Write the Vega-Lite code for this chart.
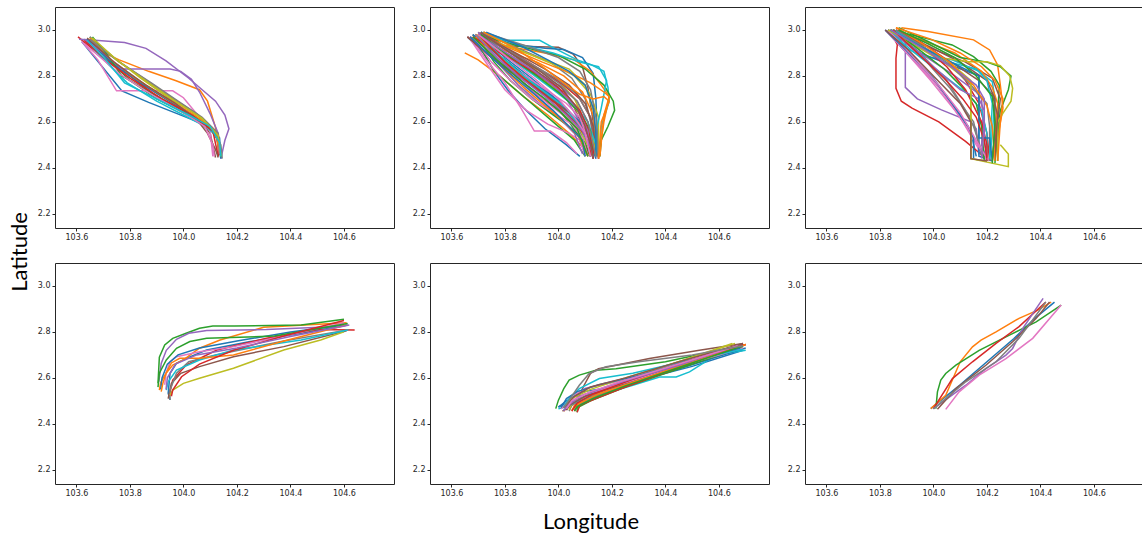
{
"$schema":"https://vega.github.io/schema/vega-lite/v6.json",
"padding":{"left":8,"top":6,"right":0,"bottom":0},
"config":{"view":{"stroke":"#262626","strokeWidth":1},
"axis":{"domain":false,"grid":false,"tickSize":3,"tickColor":"#262626","labelFont":"DejaVu Sans","labelFontSize":8,"labelColor":"#262626","labelPadding":2,"title":null},
"header":{"titleFont":"Lato","titleFontSize":22,"titleFontWeight":"normal","titleColor":"#000"}},
"data":{"values":[
{"r":0,"c":0,"t":0,"x":103.62,"y":2.95},{"r":0,"c":0,"t":0,"x":103.77,"y":2.735},{"r":0,"c":0,"t":0,"x":103.87,"y":2.685},{"r":0,"c":0,"t":0,"x":104.0,"y":2.625},{"r":0,"c":0,"t":0,"x":104.085,"y":2.585},{"r":0,"c":0,"t":0,"x":104.135,"y":2.53},{"r":0,"c":0,"t":0,"x":104.14,"y":2.45},
{"r":0,"c":0,"t":1,"x":103.64,"y":2.96},{"r":0,"c":0,"t":1,"x":103.685,"y":2.91},{"r":0,"c":0,"t":1,"x":103.76,"y":2.87},{"r":0,"c":0,"t":1,"x":103.87,"y":2.82},{"r":0,"c":0,"t":1,"x":103.97,"y":2.78},{"r":0,"c":0,"t":1,"x":104.06,"y":2.74},{"r":0,"c":0,"t":1,"x":104.09,"y":2.69},{"r":0,"c":0,"t":1,"x":104.12,"y":2.575},{"r":0,"c":0,"t":1,"x":104.135,"y":2.46},
{"r":0,"c":0,"t":2,"x":103.65,"y":2.97},{"r":0,"c":0,"t":2,"x":103.72,"y":2.87},{"r":0,"c":0,"t":2,"x":103.8,"y":2.78},{"r":0,"c":0,"t":2,"x":103.9,"y":2.7},{"r":0,"c":0,"t":2,"x":104.0,"y":2.64},{"r":0,"c":0,"t":2,"x":104.1,"y":2.57},{"r":0,"c":0,"t":2,"x":104.13,"y":2.52},{"r":0,"c":0,"t":2,"x":104.14,"y":2.45},
{"r":0,"c":0,"t":3,"x":103.606,"y":2.97},{"r":0,"c":0,"t":3,"x":103.7,"y":2.88},{"r":0,"c":0,"t":3,"x":103.8,"y":2.8},{"r":0,"c":0,"t":3,"x":103.9,"y":2.71},{"r":0,"c":0,"t":3,"x":104.0,"y":2.64},{"r":0,"c":0,"t":3,"x":104.1,"y":2.575},{"r":0,"c":0,"t":3,"x":104.13,"y":2.53},{"r":0,"c":0,"t":3,"x":104.13,"y":2.45},
{"r":0,"c":0,"t":4,"x":103.61,"y":2.96},{"r":0,"c":0,"t":4,"x":103.67,"y":2.955},{"r":0,"c":0,"t":4,"x":103.78,"y":2.945},{"r":0,"c":0,"t":4,"x":103.86,"y":2.92},{"r":0,"c":0,"t":4,"x":103.935,"y":2.865},{"r":0,"c":0,"t":4,"x":104.02,"y":2.79},{"r":0,"c":0,"t":4,"x":104.07,"y":2.74},{"r":0,"c":0,"t":4,"x":104.12,"y":2.69},{"r":0,"c":0,"t":4,"x":104.155,"y":2.63},{"r":0,"c":0,"t":4,"x":104.17,"y":2.57},{"r":0,"c":0,"t":4,"x":104.155,"y":2.52},{"r":0,"c":0,"t":4,"x":104.14,"y":2.44},
{"r":0,"c":0,"t":5,"x":103.64,"y":2.96},{"r":0,"c":0,"t":5,"x":103.75,"y":2.84},{"r":0,"c":0,"t":5,"x":103.85,"y":2.76},{"r":0,"c":0,"t":5,"x":103.95,"y":2.69},{"r":0,"c":0,"t":5,"x":104.05,"y":2.62},{"r":0,"c":0,"t":5,"x":104.1,"y":2.55},{"r":0,"c":0,"t":5,"x":104.12,"y":2.445},
{"r":0,"c":0,"t":6,"x":103.62,"y":2.95},{"r":0,"c":0,"t":6,"x":103.68,"y":2.87},{"r":0,"c":0,"t":6,"x":103.75,"y":2.735},{"r":0,"c":0,"t":6,"x":103.96,"y":2.735},{"r":0,"c":0,"t":6,"x":104.0,"y":2.705},{"r":0,"c":0,"t":6,"x":104.06,"y":2.62},{"r":0,"c":0,"t":6,"x":104.1,"y":2.56},{"r":0,"c":0,"t":6,"x":104.11,"y":2.45},
{"r":0,"c":0,"t":7,"x":103.65,"y":2.97},{"r":0,"c":0,"t":7,"x":103.75,"y":2.87},{"r":0,"c":0,"t":7,"x":103.85,"y":2.79},{"r":0,"c":0,"t":7,"x":103.95,"y":2.71},{"r":0,"c":0,"t":7,"x":104.05,"y":2.635},{"r":0,"c":0,"t":7,"x":104.11,"y":2.57},{"r":0,"c":0,"t":7,"x":104.14,"y":2.5},{"r":0,"c":0,"t":7,"x":104.145,"y":2.44},
{"r":0,"c":0,"t":8,"x":103.655,"y":2.965},{"r":0,"c":0,"t":8,"x":103.74,"y":2.88},{"r":0,"c":0,"t":8,"x":103.84,"y":2.79},{"r":0,"c":0,"t":8,"x":103.95,"y":2.7},{"r":0,"c":0,"t":8,"x":104.05,"y":2.63},{"r":0,"c":0,"t":8,"x":104.12,"y":2.56},{"r":0,"c":0,"t":8,"x":104.14,"y":2.46},
{"r":0,"c":0,"t":9,"x":103.63,"y":2.96},{"r":0,"c":0,"t":9,"x":103.72,"y":2.85},{"r":0,"c":0,"t":9,"x":103.79,"y":2.77},{"r":0,"c":0,"t":9,"x":103.9,"y":2.69},{"r":0,"c":0,"t":9,"x":104.0,"y":2.63},{"r":0,"c":0,"t":9,"x":104.09,"y":2.575},{"r":0,"c":0,"t":9,"x":104.13,"y":2.53},{"r":0,"c":0,"t":9,"x":104.14,"y":2.45},
{"r":0,"c":0,"t":10,"x":103.64,"y":2.96},{"r":0,"c":0,"t":10,"x":103.73,"y":2.86},{"r":0,"c":0,"t":10,"x":103.84,"y":2.77},{"r":0,"c":0,"t":10,"x":103.96,"y":2.68},{"r":0,"c":0,"t":10,"x":104.06,"y":2.61},{"r":0,"c":0,"t":10,"x":104.12,"y":2.55},{"r":0,"c":0,"t":10,"x":104.14,"y":2.44},
{"r":0,"c":0,"t":11,"x":103.65,"y":2.965},{"r":0,"c":0,"t":11,"x":103.73,"y":2.87},{"r":0,"c":0,"t":11,"x":103.82,"y":2.79},{"r":0,"c":0,"t":11,"x":103.94,"y":2.7},{"r":0,"c":0,"t":11,"x":104.04,"y":2.63},{"r":0,"c":0,"t":11,"x":104.12,"y":2.56},{"r":0,"c":0,"t":11,"x":104.135,"y":2.46},
{"r":0,"c":0,"t":12,"x":103.66,"y":2.97},{"r":0,"c":0,"t":12,"x":103.71,"y":2.9},{"r":0,"c":0,"t":12,"x":103.77,"y":2.8},{"r":0,"c":0,"t":12,"x":103.86,"y":2.74},{"r":0,"c":0,"t":12,"x":103.98,"y":2.66},{"r":0,"c":0,"t":12,"x":104.08,"y":2.59},{"r":0,"c":0,"t":12,"x":104.13,"y":2.54},{"r":0,"c":0,"t":12,"x":104.14,"y":2.45},
{"r":0,"c":0,"t":13,"x":103.63,"y":2.955},{"r":0,"c":0,"t":13,"x":103.72,"y":2.86},{"r":0,"c":0,"t":13,"x":103.8,"y":2.79},{"r":0,"c":0,"t":13,"x":103.92,"y":2.7},{"r":0,"c":0,"t":13,"x":104.03,"y":2.63},{"r":0,"c":0,"t":13,"x":104.11,"y":2.56},{"r":0,"c":0,"t":13,"x":104.13,"y":2.45},
{"r":0,"c":0,"t":14,"x":103.63,"y":2.96},{"r":0,"c":0,"t":14,"x":103.7,"y":2.9},{"r":0,"c":0,"t":14,"x":103.77,"y":2.83},{"r":0,"c":0,"t":14,"x":103.95,"y":2.83},{"r":0,"c":0,"t":14,"x":103.99,"y":2.82},{"r":0,"c":0,"t":14,"x":104.03,"y":2.785},{"r":0,"c":0,"t":14,"x":104.06,"y":2.73},{"r":0,"c":0,"t":14,"x":104.1,"y":2.635},{"r":0,"c":0,"t":14,"x":104.13,"y":2.55},{"r":0,"c":0,"t":14,"x":104.135,"y":2.46},
{"r":0,"c":0,"t":15,"x":103.64,"y":2.965},{"r":0,"c":0,"t":15,"x":103.74,"y":2.86},{"r":0,"c":0,"t":15,"x":103.86,"y":2.76},{"r":0,"c":0,"t":15,"x":103.97,"y":2.68},{"r":0,"c":0,"t":15,"x":104.05,"y":2.61},{"r":0,"c":0,"t":15,"x":104.09,"y":2.55},{"r":0,"c":0,"t":15,"x":104.12,"y":2.48},{"r":0,"c":0,"t":15,"x":104.13,"y":2.445},
{"r":0,"c":0,"t":16,"x":103.63,"y":2.94},{"r":0,"c":0,"t":16,"x":103.69,"y":2.88},{"r":0,"c":0,"t":16,"x":103.76,"y":2.81},{"r":0,"c":0,"t":16,"x":103.88,"y":2.72},{"r":0,"c":0,"t":16,"x":104.0,"y":2.64},{"r":0,"c":0,"t":16,"x":104.08,"y":2.58},{"r":0,"c":0,"t":16,"x":104.11,"y":2.5},{"r":0,"c":0,"t":16,"x":104.115,"y":2.45},
{"r":0,"c":0,"t":17,"x":103.65,"y":2.96},{"r":0,"c":0,"t":17,"x":103.76,"y":2.86},{"r":0,"c":0,"t":17,"x":103.88,"y":2.77},{"r":0,"c":0,"t":17,"x":103.98,"y":2.69},{"r":0,"c":0,"t":17,"x":104.07,"y":2.62},{"r":0,"c":0,"t":17,"x":104.13,"y":2.55},{"r":0,"c":0,"t":17,"x":104.14,"y":2.46},
{"r":0,"c":0,"t":18,"x":103.66,"y":2.965},{"r":0,"c":0,"t":18,"x":103.75,"y":2.87},{"r":0,"c":0,"t":18,"x":103.87,"y":2.77},{"r":0,"c":0,"t":18,"x":103.97,"y":2.69},{"r":0,"c":0,"t":18,"x":104.07,"y":2.615},{"r":0,"c":0,"t":18,"x":104.13,"y":2.54},{"r":0,"c":0,"t":18,"x":104.14,"y":2.45},
{"r":0,"c":0,"t":19,"x":103.64,"y":2.955},{"r":0,"c":0,"t":19,"x":103.71,"y":2.87},{"r":0,"c":0,"t":19,"x":103.78,"y":2.77},{"r":0,"c":0,"t":19,"x":103.9,"y":2.7},{"r":0,"c":0,"t":19,"x":104.02,"y":2.63},{"r":0,"c":0,"t":19,"x":104.1,"y":2.58},{"r":0,"c":0,"t":19,"x":104.135,"y":2.51},{"r":0,"c":0,"t":19,"x":104.14,"y":2.45},

{"r":0,"c":1,"t":0,"x":103.66,"y":2.97},{"r":0,"c":1,"t":0,"x":103.72,"y":2.9},{"r":0,"c":1,"t":0,"x":103.76,"y":2.82},{"r":0,"c":1,"t":0,"x":103.81,"y":2.74},{"r":0,"c":1,"t":0,"x":103.87,"y":2.66},{"r":0,"c":1,"t":0,"x":103.95,"y":2.57},{"r":0,"c":1,"t":0,"x":104.03,"y":2.5},{"r":0,"c":1,"t":0,"x":104.08,"y":2.45},
{"r":0,"c":1,"t":1,"x":103.65,"y":2.9},{"r":0,"c":1,"t":1,"x":103.7,"y":2.87},{"r":0,"c":1,"t":1,"x":103.78,"y":2.8},{"r":0,"c":1,"t":1,"x":103.87,"y":2.71},{"r":0,"c":1,"t":1,"x":103.96,"y":2.63},{"r":0,"c":1,"t":1,"x":104.04,"y":2.55},{"r":0,"c":1,"t":1,"x":104.1,"y":2.48},{"r":0,"c":1,"t":1,"x":104.12,"y":2.45},
{"r":0,"c":1,"t":2,"x":103.68,"y":2.98},{"r":0,"c":1,"t":2,"x":103.73,"y":2.88},{"r":0,"c":1,"t":2,"x":103.76,"y":2.82},{"r":0,"c":1,"t":2,"x":103.82,"y":2.76},{"r":0,"c":1,"t":2,"x":103.9,"y":2.68},{"r":0,"c":1,"t":2,"x":103.98,"y":2.6},{"r":0,"c":1,"t":2,"x":104.06,"y":2.52},{"r":0,"c":1,"t":2,"x":104.1,"y":2.45},
{"r":0,"c":1,"t":3,"x":103.7,"y":2.98},{"r":0,"c":1,"t":3,"x":103.78,"y":2.88},{"r":0,"c":1,"t":3,"x":103.86,"y":2.8},{"r":0,"c":1,"t":3,"x":103.94,"y":2.73},{"r":0,"c":1,"t":3,"x":104.02,"y":2.66},{"r":0,"c":1,"t":3,"x":104.08,"y":2.6},{"r":0,"c":1,"t":3,"x":104.12,"y":2.53},{"r":0,"c":1,"t":3,"x":104.14,"y":2.45},
{"r":0,"c":1,"t":4,"x":103.71,"y":2.99},{"r":0,"c":1,"t":4,"x":103.8,"y":2.9},{"r":0,"c":1,"t":4,"x":103.9,"y":2.83},{"r":0,"c":1,"t":4,"x":104.0,"y":2.76},{"r":0,"c":1,"t":4,"x":104.07,"y":2.69},{"r":0,"c":1,"t":4,"x":104.11,"y":2.6},{"r":0,"c":1,"t":4,"x":104.13,"y":2.5},{"r":0,"c":1,"t":4,"x":104.14,"y":2.44},
{"r":0,"c":1,"t":5,"x":103.72,"y":2.99},{"r":0,"c":1,"t":5,"x":103.8,"y":2.93},{"r":0,"c":1,"t":5,"x":104.0,"y":2.925},{"r":0,"c":1,"t":5,"x":104.055,"y":2.895},{"r":0,"c":1,"t":5,"x":104.09,"y":2.84},{"r":0,"c":1,"t":5,"x":104.11,"y":2.75},{"r":0,"c":1,"t":5,"x":104.13,"y":2.6},{"r":0,"c":1,"t":5,"x":104.14,"y":2.45},
{"r":0,"c":1,"t":6,"x":103.67,"y":2.97},{"r":0,"c":1,"t":6,"x":103.73,"y":2.87},{"r":0,"c":1,"t":6,"x":103.8,"y":2.77},{"r":0,"c":1,"t":6,"x":103.86,"y":2.66},{"r":0,"c":1,"t":6,"x":103.91,"y":2.56},{"r":0,"c":1,"t":6,"x":103.97,"y":2.56},{"r":0,"c":1,"t":6,"x":104.03,"y":2.51},{"r":0,"c":1,"t":6,"x":104.07,"y":2.46},
{"r":0,"c":1,"t":7,"x":103.69,"y":2.98},{"r":0,"c":1,"t":7,"x":103.76,"y":2.9},{"r":0,"c":1,"t":7,"x":103.85,"y":2.82},{"r":0,"c":1,"t":7,"x":103.94,"y":2.74},{"r":0,"c":1,"t":7,"x":104.02,"y":2.65},{"r":0,"c":1,"t":7,"x":104.08,"y":2.56},{"r":0,"c":1,"t":7,"x":104.1,"y":2.5},{"r":0,"c":1,"t":7,"x":104.11,"y":2.45},
{"r":0,"c":1,"t":8,"x":103.7,"y":2.98},{"r":0,"c":1,"t":8,"x":103.8,"y":2.9},{"r":0,"c":1,"t":8,"x":103.9,"y":2.84},{"r":0,"c":1,"t":8,"x":104.0,"y":2.78},{"r":0,"c":1,"t":8,"x":104.06,"y":2.7},{"r":0,"c":1,"t":8,"x":104.1,"y":2.6},{"r":0,"c":1,"t":8,"x":104.12,"y":2.5},{"r":0,"c":1,"t":8,"x":104.13,"y":2.45},
{"r":0,"c":1,"t":9,"x":103.72,"y":2.98},{"r":0,"c":1,"t":9,"x":103.78,"y":2.955},{"r":0,"c":1,"t":9,"x":103.93,"y":2.955},{"r":0,"c":1,"t":9,"x":103.97,"y":2.93},{"r":0,"c":1,"t":9,"x":104.07,"y":2.87},{"r":0,"c":1,"t":9,"x":104.12,"y":2.85},{"r":0,"c":1,"t":9,"x":104.17,"y":2.82},{"r":0,"c":1,"t":9,"x":104.185,"y":2.75},{"r":0,"c":1,"t":9,"x":104.19,"y":2.69},{"r":0,"c":1,"t":9,"x":104.16,"y":2.58},{"r":0,"c":1,"t":9,"x":104.155,"y":2.45},
{"r":0,"c":1,"t":10,"x":103.71,"y":2.99},{"r":0,"c":1,"t":10,"x":103.82,"y":2.94},{"r":0,"c":1,"t":10,"x":103.95,"y":2.92},{"r":0,"c":1,"t":10,"x":104.02,"y":2.915},{"r":0,"c":1,"t":10,"x":104.09,"y":2.88},{"r":0,"c":1,"t":10,"x":104.13,"y":2.81},{"r":0,"c":1,"t":10,"x":104.14,"y":2.7},{"r":0,"c":1,"t":10,"x":104.145,"y":2.55},{"r":0,"c":1,"t":10,"x":104.15,"y":2.44},
{"r":0,"c":1,"t":11,"x":103.69,"y":2.98},{"r":0,"c":1,"t":11,"x":103.8,"y":2.93},{"r":0,"c":1,"t":11,"x":103.95,"y":2.9},{"r":0,"c":1,"t":11,"x":104.06,"y":2.87},{"r":0,"c":1,"t":11,"x":104.12,"y":2.82},{"r":0,"c":1,"t":11,"x":104.16,"y":2.76},{"r":0,"c":1,"t":11,"x":104.19,"y":2.71},{"r":0,"c":1,"t":11,"x":104.17,"y":2.6},{"r":0,"c":1,"t":11,"x":104.15,"y":2.44},
{"r":0,"c":1,"t":12,"x":103.7,"y":2.98},{"r":0,"c":1,"t":12,"x":103.85,"y":2.93},{"r":0,"c":1,"t":12,"x":104.0,"y":2.89},{"r":0,"c":1,"t":12,"x":104.1,"y":2.83},{"r":0,"c":1,"t":12,"x":104.17,"y":2.76},{"r":0,"c":1,"t":12,"x":104.205,"y":2.69},{"r":0,"c":1,"t":12,"x":104.21,"y":2.65},{"r":0,"c":1,"t":12,"x":104.185,"y":2.58},{"r":0,"c":1,"t":12,"x":104.16,"y":2.52},{"r":0,"c":1,"t":12,"x":104.155,"y":2.45},
{"r":0,"c":1,"t":13,"x":103.66,"y":2.97},{"r":0,"c":1,"t":13,"x":103.75,"y":2.88},{"r":0,"c":1,"t":13,"x":103.84,"y":2.8},{"r":0,"c":1,"t":13,"x":103.92,"y":2.72},{"r":0,"c":1,"t":13,"x":104.0,"y":2.65},{"r":0,"c":1,"t":13,"x":104.06,"y":2.58},{"r":0,"c":1,"t":13,"x":104.1,"y":2.5},{"r":0,"c":1,"t":13,"x":104.12,"y":2.45},
{"r":0,"c":1,"t":14,"x":103.68,"y":2.98},{"r":0,"c":1,"t":14,"x":103.77,"y":2.86},{"r":0,"c":1,"t":14,"x":103.85,"y":2.76},{"r":0,"c":1,"t":14,"x":103.93,"y":2.68},{"r":0,"c":1,"t":14,"x":104.01,"y":2.61},{"r":0,"c":1,"t":14,"x":104.07,"y":2.55},{"r":0,"c":1,"t":14,"x":104.1,"y":2.46},
{"r":0,"c":1,"t":15,"x":103.7,"y":2.99},{"r":0,"c":1,"t":15,"x":103.82,"y":2.9},{"r":0,"c":1,"t":15,"x":103.92,"y":2.82},{"r":0,"c":1,"t":15,"x":104.0,"y":2.75},{"r":0,"c":1,"t":15,"x":104.06,"y":2.66},{"r":0,"c":1,"t":15,"x":104.1,"y":2.56},{"r":0,"c":1,"t":15,"x":104.13,"y":2.45},
{"r":0,"c":1,"t":16,"x":103.67,"y":2.96},{"r":0,"c":1,"t":16,"x":103.74,"y":2.84},{"r":0,"c":1,"t":16,"x":103.8,"y":2.74},{"r":0,"c":1,"t":16,"x":103.88,"y":2.65},{"r":0,"c":1,"t":16,"x":103.96,"y":2.59},{"r":0,"c":1,"t":16,"x":104.04,"y":2.55},{"r":0,"c":1,"t":16,"x":104.08,"y":2.52},{"r":0,"c":1,"t":16,"x":104.1,"y":2.45},
{"r":0,"c":1,"t":17,"x":103.72,"y":2.99},{"r":0,"c":1,"t":17,"x":103.85,"y":2.92},{"r":0,"c":1,"t":17,"x":103.97,"y":2.86},{"r":0,"c":1,"t":17,"x":104.05,"y":2.79},{"r":0,"c":1,"t":17,"x":104.1,"y":2.7},{"r":0,"c":1,"t":17,"x":104.12,"y":2.6},{"r":0,"c":1,"t":17,"x":104.14,"y":2.45},
{"r":0,"c":1,"t":18,"x":103.7,"y":2.98},{"r":0,"c":1,"t":18,"x":103.83,"y":2.92},{"r":0,"c":1,"t":18,"x":103.95,"y":2.87},{"r":0,"c":1,"t":18,"x":104.04,"y":2.83},{"r":0,"c":1,"t":18,"x":104.1,"y":2.76},{"r":0,"c":1,"t":18,"x":104.13,"y":2.65},{"r":0,"c":1,"t":18,"x":104.14,"y":2.55},{"r":0,"c":1,"t":18,"x":104.15,"y":2.45},
{"r":0,"c":1,"t":19,"x":103.69,"y":2.97},{"r":0,"c":1,"t":19,"x":103.78,"y":2.88},{"r":0,"c":1,"t":19,"x":103.88,"y":2.78},{"r":0,"c":1,"t":19,"x":103.97,"y":2.7},{"r":0,"c":1,"t":19,"x":104.05,"y":2.62},{"r":0,"c":1,"t":19,"x":104.1,"y":2.54},{"r":0,"c":1,"t":19,"x":104.13,"y":2.45},
{"r":0,"c":1,"t":20,"x":103.71,"y":2.98},{"r":0,"c":1,"t":20,"x":103.8,"y":2.88},{"r":0,"c":1,"t":20,"x":103.9,"y":2.79},{"r":0,"c":1,"t":20,"x":103.99,"y":2.7},{"r":0,"c":1,"t":20,"x":104.06,"y":2.62},{"r":0,"c":1,"t":20,"x":104.11,"y":2.53},{"r":0,"c":1,"t":20,"x":104.13,"y":2.44},
{"r":0,"c":1,"t":21,"x":103.68,"y":2.97},{"r":0,"c":1,"t":21,"x":103.8,"y":2.91},{"r":0,"c":1,"t":21,"x":103.92,"y":2.86},{"r":0,"c":1,"t":21,"x":104.02,"y":2.8},{"r":0,"c":1,"t":21,"x":104.09,"y":2.73},{"r":0,"c":1,"t":21,"x":104.13,"y":2.63},{"r":0,"c":1,"t":21,"x":104.14,"y":2.52},{"r":0,"c":1,"t":21,"x":104.14,"y":2.45},
{"r":0,"c":1,"t":22,"x":103.69,"y":2.98},{"r":0,"c":1,"t":22,"x":103.76,"y":2.86},{"r":0,"c":1,"t":22,"x":103.82,"y":2.78},{"r":0,"c":1,"t":22,"x":103.9,"y":2.7},{"r":0,"c":1,"t":22,"x":103.98,"y":2.63},{"r":0,"c":1,"t":22,"x":104.05,"y":2.57},{"r":0,"c":1,"t":22,"x":104.1,"y":2.51},{"r":0,"c":1,"t":22,"x":104.12,"y":2.45},
{"r":0,"c":1,"t":23,"x":103.71,"y":2.99},{"r":0,"c":1,"t":23,"x":103.82,"y":2.91},{"r":0,"c":1,"t":23,"x":103.93,"y":2.83},{"r":0,"c":1,"t":23,"x":104.02,"y":2.76},{"r":0,"c":1,"t":23,"x":104.08,"y":2.7},{"r":0,"c":1,"t":23,"x":104.12,"y":2.62},{"r":0,"c":1,"t":23,"x":104.14,"y":2.5},{"r":0,"c":1,"t":23,"x":104.15,"y":2.44},
{"r":0,"c":1,"t":24,"x":103.7,"y":2.98},{"r":0,"c":1,"t":24,"x":103.78,"y":2.92},{"r":0,"c":1,"t":24,"x":103.87,"y":2.85},{"r":0,"c":1,"t":24,"x":103.96,"y":2.78},{"r":0,"c":1,"t":24,"x":104.03,"y":2.7},{"r":0,"c":1,"t":24,"x":104.08,"y":2.6},{"r":0,"c":1,"t":24,"x":104.12,"y":2.5},{"r":0,"c":1,"t":24,"x":104.13,"y":2.44},
{"r":0,"c":1,"t":25,"x":103.68,"y":2.97},{"r":0,"c":1,"t":25,"x":103.76,"y":2.89},{"r":0,"c":1,"t":25,"x":103.86,"y":2.79},{"r":0,"c":1,"t":25,"x":103.96,"y":2.71},{"r":0,"c":1,"t":25,"x":104.04,"y":2.64},{"r":0,"c":1,"t":25,"x":104.1,"y":2.56},{"r":0,"c":1,"t":25,"x":104.13,"y":2.44},
{"r":0,"c":1,"t":26,"x":103.69,"y":2.98},{"r":0,"c":1,"t":26,"x":103.78,"y":2.87},{"r":0,"c":1,"t":26,"x":103.86,"y":2.78},{"r":0,"c":1,"t":26,"x":103.96,"y":2.68},{"r":0,"c":1,"t":26,"x":104.04,"y":2.61},{"r":0,"c":1,"t":26,"x":104.1,"y":2.55},{"r":0,"c":1,"t":26,"x":104.12,"y":2.45},
{"r":0,"c":1,"t":27,"x":103.7,"y":2.98},{"r":0,"c":1,"t":27,"x":103.8,"y":2.92},{"r":0,"c":1,"t":27,"x":103.9,"y":2.85},{"r":0,"c":1,"t":27,"x":103.99,"y":2.79},{"r":0,"c":1,"t":27,"x":104.07,"y":2.72},{"r":0,"c":1,"t":27,"x":104.12,"y":2.62},{"r":0,"c":1,"t":27,"x":104.14,"y":2.52},{"r":0,"c":1,"t":27,"x":104.15,"y":2.45},
{"r":0,"c":1,"t":28,"x":103.72,"y":2.99},{"r":0,"c":1,"t":28,"x":103.86,"y":2.91},{"r":0,"c":1,"t":28,"x":103.98,"y":2.85},{"r":0,"c":1,"t":28,"x":104.06,"y":2.8},{"r":0,"c":1,"t":28,"x":104.12,"y":2.72},{"r":0,"c":1,"t":28,"x":104.15,"y":2.62},{"r":0,"c":1,"t":28,"x":104.15,"y":2.45},
{"r":0,"c":1,"t":29,"x":103.71,"y":2.99},{"r":0,"c":1,"t":29,"x":103.84,"y":2.94},{"r":0,"c":1,"t":29,"x":103.98,"y":2.9},{"r":0,"c":1,"t":29,"x":104.08,"y":2.86},{"r":0,"c":1,"t":29,"x":104.15,"y":2.84},{"r":0,"c":1,"t":29,"x":104.18,"y":2.78},{"r":0,"c":1,"t":29,"x":104.16,"y":2.66},{"r":0,"c":1,"t":29,"x":104.14,"y":2.56},{"r":0,"c":1,"t":29,"x":104.14,"y":2.45},
{"r":0,"c":1,"t":30,"x":103.68,"y":2.98},{"r":0,"c":1,"t":30,"x":103.79,"y":2.88},{"r":0,"c":1,"t":30,"x":103.9,"y":2.78},{"r":0,"c":1,"t":30,"x":104.0,"y":2.69},{"r":0,"c":1,"t":30,"x":104.08,"y":2.6},{"r":0,"c":1,"t":30,"x":104.12,"y":2.52},{"r":0,"c":1,"t":30,"x":104.14,"y":2.44},
{"r":0,"c":1,"t":31,"x":103.7,"y":2.98},{"r":0,"c":1,"t":31,"x":103.82,"y":2.92},{"r":0,"c":1,"t":31,"x":103.94,"y":2.86},{"r":0,"c":1,"t":31,"x":104.05,"y":2.81},{"r":0,"c":1,"t":31,"x":104.12,"y":2.77},{"r":0,"c":1,"t":31,"x":104.17,"y":2.73},{"r":0,"c":1,"t":31,"x":104.19,"y":2.71},{"r":0,"c":1,"t":31,"x":104.17,"y":2.63},{"r":0,"c":1,"t":31,"x":104.155,"y":2.45},
{"r":0,"c":1,"t":32,"x":103.69,"y":2.97},{"r":0,"c":1,"t":32,"x":103.8,"y":2.87},{"r":0,"c":1,"t":32,"x":103.9,"y":2.77},{"r":0,"c":1,"t":32,"x":103.98,"y":2.68},{"r":0,"c":1,"t":32,"x":104.04,"y":2.6},{"r":0,"c":1,"t":32,"x":104.08,"y":2.53},{"r":0,"c":1,"t":32,"x":104.11,"y":2.45},
{"r":0,"c":1,"t":33,"x":103.67,"y":2.97},{"r":0,"c":1,"t":33,"x":103.78,"y":2.9},{"r":0,"c":1,"t":33,"x":103.9,"y":2.82},{"r":0,"c":1,"t":33,"x":104.0,"y":2.74},{"r":0,"c":1,"t":33,"x":104.07,"y":2.66},{"r":0,"c":1,"t":33,"x":104.1,"y":2.58},{"r":0,"c":1,"t":33,"x":104.12,"y":2.5},{"r":0,"c":1,"t":33,"x":104.13,"y":2.45},
{"r":0,"c":1,"t":34,"x":103.7,"y":2.99},{"r":0,"c":1,"t":34,"x":103.79,"y":2.87},{"r":0,"c":1,"t":34,"x":103.86,"y":2.78},{"r":0,"c":1,"t":34,"x":103.93,"y":2.7},{"r":0,"c":1,"t":34,"x":104.0,"y":2.62},{"r":0,"c":1,"t":34,"x":104.06,"y":2.55},{"r":0,"c":1,"t":34,"x":104.09,"y":2.46},
{"r":0,"c":1,"t":35,"x":103.71,"y":2.98},{"r":0,"c":1,"t":35,"x":103.84,"y":2.9},{"r":0,"c":1,"t":35,"x":103.95,"y":2.83},{"r":0,"c":1,"t":35,"x":104.04,"y":2.76},{"r":0,"c":1,"t":35,"x":104.1,"y":2.68},{"r":0,"c":1,"t":35,"x":104.13,"y":2.58},{"r":0,"c":1,"t":35,"x":104.14,"y":2.45},
{"r":0,"c":1,"t":36,"x":103.68,"y":2.97},{"r":0,"c":1,"t":36,"x":103.75,"y":2.86},{"r":0,"c":1,"t":36,"x":103.83,"y":2.77},{"r":0,"c":1,"t":36,"x":103.9,"y":2.7},{"r":0,"c":1,"t":36,"x":103.98,"y":2.64},{"r":0,"c":1,"t":36,"x":104.05,"y":2.59},{"r":0,"c":1,"t":36,"x":104.09,"y":2.53},{"r":0,"c":1,"t":36,"x":104.11,"y":2.45},
{"r":0,"c":1,"t":37,"x":103.72,"y":2.99},{"r":0,"c":1,"t":37,"x":103.88,"y":2.93},{"r":0,"c":1,"t":37,"x":104.0,"y":2.88},{"r":0,"c":1,"t":37,"x":104.08,"y":2.82},{"r":0,"c":1,"t":37,"x":104.12,"y":2.74},{"r":0,"c":1,"t":37,"x":104.14,"y":2.62},{"r":0,"c":1,"t":37,"x":104.15,"y":2.45},
{"r":0,"c":1,"t":38,"x":103.69,"y":2.98},{"r":0,"c":1,"t":38,"x":103.79,"y":2.9},{"r":0,"c":1,"t":38,"x":103.88,"y":2.83},{"r":0,"c":1,"t":38,"x":103.97,"y":2.76},{"r":0,"c":1,"t":38,"x":104.05,"y":2.68},{"r":0,"c":1,"t":38,"x":104.1,"y":2.6},{"r":0,"c":1,"t":38,"x":104.13,"y":2.52},{"r":0,"c":1,"t":38,"x":104.14,"y":2.45},
{"r":0,"c":1,"t":39,"x":103.7,"y":2.98},{"r":0,"c":1,"t":39,"x":103.8,"y":2.89},{"r":0,"c":1,"t":39,"x":103.9,"y":2.81},{"r":0,"c":1,"t":39,"x":103.98,"y":2.74},{"r":0,"c":1,"t":39,"x":104.06,"y":2.67},{"r":0,"c":1,"t":39,"x":104.11,"y":2.6},{"r":0,"c":1,"t":39,"x":104.14,"y":2.5},{"r":0,"c":1,"t":39,"x":104.14,"y":2.45},
{"r":0,"c":1,"t":40,"x":103.73,"y":2.99},{"r":0,"c":1,"t":40,"x":103.86,"y":2.93},{"r":0,"c":1,"t":40,"x":103.96,"y":2.87},{"r":0,"c":1,"t":40,"x":104.04,"y":2.82},{"r":0,"c":1,"t":40,"x":104.1,"y":2.76},{"r":0,"c":1,"t":40,"x":104.13,"y":2.66},{"r":0,"c":1,"t":40,"x":104.14,"y":2.55},{"r":0,"c":1,"t":40,"x":104.14,"y":2.45},
{"r":0,"c":1,"t":41,"x":103.69,"y":2.97},{"r":0,"c":1,"t":41,"x":103.78,"y":2.85},{"r":0,"c":1,"t":41,"x":103.87,"y":2.75},{"r":0,"c":1,"t":41,"x":103.96,"y":2.66},{"r":0,"c":1,"t":41,"x":104.03,"y":2.59},{"r":0,"c":1,"t":41,"x":104.08,"y":2.53},{"r":0,"c":1,"t":41,"x":104.11,"y":2.45},
{"r":0,"c":1,"t":42,"x":103.71,"y":2.98},{"r":0,"c":1,"t":42,"x":103.81,"y":2.89},{"r":0,"c":1,"t":42,"x":103.92,"y":2.8},{"r":0,"c":1,"t":42,"x":104.01,"y":2.72},{"r":0,"c":1,"t":42,"x":104.08,"y":2.64},{"r":0,"c":1,"t":42,"x":104.12,"y":2.56},{"r":0,"c":1,"t":42,"x":104.13,"y":2.45},
{"r":0,"c":1,"t":43,"x":103.68,"y":2.97},{"r":0,"c":1,"t":43,"x":103.8,"y":2.89},{"r":0,"c":1,"t":43,"x":103.92,"y":2.81},{"r":0,"c":1,"t":43,"x":104.02,"y":2.73},{"r":0,"c":1,"t":43,"x":104.08,"y":2.65},{"r":0,"c":1,"t":43,"x":104.11,"y":2.57},{"r":0,"c":1,"t":43,"x":104.13,"y":2.49},{"r":0,"c":1,"t":43,"x":104.13,"y":2.44},
{"r":0,"c":1,"t":44,"x":103.7,"y":2.98},{"r":0,"c":1,"t":44,"x":103.82,"y":2.89},{"r":0,"c":1,"t":44,"x":103.91,"y":2.82},{"r":0,"c":1,"t":44,"x":104.0,"y":2.74},{"r":0,"c":1,"t":44,"x":104.07,"y":2.66},{"r":0,"c":1,"t":44,"x":104.11,"y":2.56},{"r":0,"c":1,"t":44,"x":104.12,"y":2.45},
{"r":0,"c":1,"t":45,"x":103.66,"y":2.97},{"r":0,"c":1,"t":45,"x":103.74,"y":2.89},{"r":0,"c":1,"t":45,"x":103.84,"y":2.81},{"r":0,"c":1,"t":45,"x":103.93,"y":2.74},{"r":0,"c":1,"t":45,"x":104.02,"y":2.67},{"r":0,"c":1,"t":45,"x":104.08,"y":2.59},{"r":0,"c":1,"t":45,"x":104.12,"y":2.5},{"r":0,"c":1,"t":45,"x":104.13,"y":2.44},
{"r":0,"c":1,"t":46,"x":103.67,"y":2.97},{"r":0,"c":1,"t":46,"x":103.76,"y":2.89},{"r":0,"c":1,"t":46,"x":103.85,"y":2.82},{"r":0,"c":1,"t":46,"x":103.94,"y":2.75},{"r":0,"c":1,"t":46,"x":104.03,"y":2.68},{"r":0,"c":1,"t":46,"x":104.08,"y":2.62},{"r":0,"c":1,"t":46,"x":104.11,"y":2.52},{"r":0,"c":1,"t":46,"x":104.12,"y":2.45},
{"r":0,"c":1,"t":47,"x":103.71,"y":2.99},{"r":0,"c":1,"t":47,"x":103.81,"y":2.91},{"r":0,"c":1,"t":47,"x":103.91,"y":2.84},{"r":0,"c":1,"t":47,"x":104.0,"y":2.77},{"r":0,"c":1,"t":47,"x":104.07,"y":2.69},{"r":0,"c":1,"t":47,"x":104.11,"y":2.6},{"r":0,"c":1,"t":47,"x":104.13,"y":2.5},{"r":0,"c":1,"t":47,"x":104.14,"y":2.45},
{"r":0,"c":1,"t":48,"x":103.69,"y":2.98},{"r":0,"c":1,"t":48,"x":103.77,"y":2.9},{"r":0,"c":1,"t":48,"x":103.85,"y":2.81},{"r":0,"c":1,"t":48,"x":103.94,"y":2.72},{"r":0,"c":1,"t":48,"x":104.02,"y":2.64},{"r":0,"c":1,"t":48,"x":104.08,"y":2.57},{"r":0,"c":1,"t":48,"x":104.12,"y":2.47},{"r":0,"c":1,"t":48,"x":104.12,"y":2.45},
{"r":0,"c":1,"t":49,"x":103.7,"y":2.98},{"r":0,"c":1,"t":49,"x":103.79,"y":2.88},{"r":0,"c":1,"t":49,"x":103.88,"y":2.79},{"r":0,"c":1,"t":49,"x":103.96,"y":2.72},{"r":0,"c":1,"t":49,"x":104.03,"y":2.66},{"r":0,"c":1,"t":49,"x":104.08,"y":2.58},{"r":0,"c":1,"t":49,"x":104.11,"y":2.51},{"r":0,"c":1,"t":49,"x":104.12,"y":2.45},
{"r":0,"c":1,"t":50,"x":103.67,"y":2.97},{"r":0,"c":1,"t":50,"x":103.76,"y":2.87},{"r":0,"c":1,"t":50,"x":103.84,"y":2.79},{"r":0,"c":1,"t":50,"x":103.91,"y":2.72},{"r":0,"c":1,"t":50,"x":103.98,"y":2.65},{"r":0,"c":1,"t":50,"x":104.04,"y":2.58},{"r":0,"c":1,"t":50,"x":104.09,"y":2.52},{"r":0,"c":1,"t":50,"x":104.1,"y":2.45},
{"r":0,"c":1,"t":51,"x":103.72,"y":2.99},{"r":0,"c":1,"t":51,"x":103.84,"y":2.92},{"r":0,"c":1,"t":51,"x":103.94,"y":2.84},{"r":0,"c":1,"t":51,"x":104.02,"y":2.77},{"r":0,"c":1,"t":51,"x":104.08,"y":2.72},{"r":0,"c":1,"t":51,"x":104.13,"y":2.7},{"r":0,"c":1,"t":51,"x":104.17,"y":2.71},{"r":0,"c":1,"t":51,"x":104.19,"y":2.69},{"r":0,"c":1,"t":51,"x":104.16,"y":2.6},{"r":0,"c":1,"t":51,"x":104.15,"y":2.44},
{"r":0,"c":1,"t":52,"x":103.68,"y":2.97},{"r":0,"c":1,"t":52,"x":103.78,"y":2.86},{"r":0,"c":1,"t":52,"x":103.87,"y":2.77},{"r":0,"c":1,"t":52,"x":103.95,"y":2.7},{"r":0,"c":1,"t":52,"x":104.02,"y":2.63},{"r":0,"c":1,"t":52,"x":104.07,"y":2.57},{"r":0,"c":1,"t":52,"x":104.1,"y":2.48},{"r":0,"c":1,"t":52,"x":104.11,"y":2.45},
{"r":0,"c":1,"t":53,"x":103.7,"y":2.98},{"r":0,"c":1,"t":53,"x":103.8,"y":2.86},{"r":0,"c":1,"t":53,"x":103.9,"y":2.76},{"r":0,"c":1,"t":53,"x":103.99,"y":2.68},{"r":0,"c":1,"t":53,"x":104.06,"y":2.6},{"r":0,"c":1,"t":53,"x":104.1,"y":2.54},{"r":0,"c":1,"t":53,"x":104.12,"y":2.47},{"r":0,"c":1,"t":53,"x":104.12,"y":2.45},
{"r":0,"c":1,"t":54,"x":103.69,"y":2.98},{"r":0,"c":1,"t":54,"x":103.77,"y":2.88},{"r":0,"c":1,"t":54,"x":103.86,"y":2.79},{"r":0,"c":1,"t":54,"x":103.95,"y":2.71},{"r":0,"c":1,"t":54,"x":104.03,"y":2.63},{"r":0,"c":1,"t":54,"x":104.09,"y":2.56},{"r":0,"c":1,"t":54,"x":104.12,"y":2.49},{"r":0,"c":1,"t":54,"x":104.13,"y":2.45},
{"r":0,"c":1,"t":55,"x":103.71,"y":2.99},{"r":0,"c":1,"t":55,"x":103.82,"y":2.9},{"r":0,"c":1,"t":55,"x":103.92,"y":2.83},{"r":0,"c":1,"t":55,"x":104.01,"y":2.75},{"r":0,"c":1,"t":55,"x":104.07,"y":2.66},{"r":0,"c":1,"t":55,"x":104.1,"y":2.58},{"r":0,"c":1,"t":55,"x":104.12,"y":2.5},{"r":0,"c":1,"t":55,"x":104.13,"y":2.45},
{"r":0,"c":1,"t":56,"x":103.7,"y":2.98},{"r":0,"c":1,"t":56,"x":103.81,"y":2.88},{"r":0,"c":1,"t":56,"x":103.91,"y":2.79},{"r":0,"c":1,"t":56,"x":104.0,"y":2.7},{"r":0,"c":1,"t":56,"x":104.06,"y":2.62},{"r":0,"c":1,"t":56,"x":104.1,"y":2.55},{"r":0,"c":1,"t":56,"x":104.12,"y":2.45},

{"r":0,"c":2,"t":0,"x":103.82,"y":3.0},{"r":0,"c":2,"t":0,"x":103.9,"y":2.9},{"r":0,"c":2,"t":0,"x":104.0,"y":2.78},{"r":0,"c":2,"t":0,"x":104.08,"y":2.66},{"r":0,"c":2,"t":0,"x":104.14,"y":2.56},{"r":0,"c":2,"t":0,"x":104.16,"y":2.45},
{"r":0,"c":2,"t":1,"x":103.88,"y":3.01},{"r":0,"c":2,"t":1,"x":103.98,"y":2.993},{"r":0,"c":2,"t":1,"x":104.15,"y":2.957},{"r":0,"c":2,"t":1,"x":104.21,"y":2.913},{"r":0,"c":2,"t":1,"x":104.24,"y":2.848},{"r":0,"c":2,"t":1,"x":104.25,"y":2.76},{"r":0,"c":2,"t":1,"x":104.26,"y":2.66},{"r":0,"c":2,"t":1,"x":104.24,"y":2.53},{"r":0,"c":2,"t":1,"x":104.23,"y":2.43},
{"r":0,"c":2,"t":2,"x":103.84,"y":3.0},{"r":0,"c":2,"t":2,"x":103.95,"y":2.97},{"r":0,"c":2,"t":2,"x":104.07,"y":2.935},{"r":0,"c":2,"t":2,"x":104.15,"y":2.884},{"r":0,"c":2,"t":2,"x":104.215,"y":2.82},{"r":0,"c":2,"t":2,"x":104.246,"y":2.76},{"r":0,"c":2,"t":2,"x":104.24,"y":2.62},{"r":0,"c":2,"t":2,"x":104.23,"y":2.42},
{"r":0,"c":2,"t":3,"x":103.84,"y":3.0},{"r":0,"c":2,"t":3,"x":103.865,"y":2.935},{"r":0,"c":2,"t":3,"x":103.86,"y":2.877},{"r":0,"c":2,"t":3,"x":103.86,"y":2.746},{"r":0,"c":2,"t":3,"x":103.88,"y":2.69},{"r":0,"c":2,"t":3,"x":103.92,"y":2.66},{"r":0,"c":2,"t":3,"x":104.02,"y":2.6},{"r":0,"c":2,"t":3,"x":104.12,"y":2.515},{"r":0,"c":2,"t":3,"x":104.18,"y":2.457},{"r":0,"c":2,"t":3,"x":104.2,"y":2.435},
{"r":0,"c":2,"t":4,"x":103.85,"y":3.0},{"r":0,"c":2,"t":4,"x":103.895,"y":2.96},{"r":0,"c":2,"t":4,"x":103.895,"y":2.75},{"r":0,"c":2,"t":4,"x":103.94,"y":2.7},{"r":0,"c":2,"t":4,"x":104.03,"y":2.652},{"r":0,"c":2,"t":4,"x":104.14,"y":2.6},{"r":0,"c":2,"t":4,"x":104.16,"y":2.57},{"r":0,"c":2,"t":4,"x":104.17,"y":2.457},
{"r":0,"c":2,"t":5,"x":103.83,"y":3.0},{"r":0,"c":2,"t":5,"x":103.96,"y":2.935},{"r":0,"c":2,"t":5,"x":104.12,"y":2.86},{"r":0,"c":2,"t":5,"x":104.22,"y":2.79},{"r":0,"c":2,"t":5,"x":104.25,"y":2.7},{"r":0,"c":2,"t":5,"x":104.24,"y":2.6},{"r":0,"c":2,"t":5,"x":104.22,"y":2.43},
{"r":0,"c":2,"t":6,"x":103.83,"y":3.0},{"r":0,"c":2,"t":6,"x":103.92,"y":2.88},{"r":0,"c":2,"t":6,"x":104.02,"y":2.75},{"r":0,"c":2,"t":6,"x":104.1,"y":2.62},{"r":0,"c":2,"t":6,"x":104.16,"y":2.5},{"r":0,"c":2,"t":6,"x":104.2,"y":2.43},
{"r":0,"c":2,"t":7,"x":103.85,"y":3.0},{"r":0,"c":2,"t":7,"x":103.95,"y":2.9},{"r":0,"c":2,"t":7,"x":104.05,"y":2.78},{"r":0,"c":2,"t":7,"x":104.12,"y":2.65},{"r":0,"c":2,"t":7,"x":104.15,"y":2.6},{"r":0,"c":2,"t":7,"x":104.18,"y":2.45},
{"r":0,"c":2,"t":8,"x":103.83,"y":3.0},{"r":0,"c":2,"t":8,"x":103.95,"y":2.92},{"r":0,"c":2,"t":8,"x":104.05,"y":2.85},{"r":0,"c":2,"t":8,"x":104.14,"y":2.77},{"r":0,"c":2,"t":8,"x":104.14,"y":2.6},{"r":0,"c":2,"t":8,"x":104.14,"y":2.44},{"r":0,"c":2,"t":8,"x":104.28,"y":2.405},{"r":0,"c":2,"t":8,"x":104.28,"y":2.46},{"r":0,"c":2,"t":8,"x":104.25,"y":2.5},
{"r":0,"c":2,"t":9,"x":103.84,"y":3.0},{"r":0,"c":2,"t":9,"x":103.9,"y":2.92},{"r":0,"c":2,"t":9,"x":103.96,"y":2.884},{"r":0,"c":2,"t":9,"x":104.07,"y":2.87},{"r":0,"c":2,"t":9,"x":104.17,"y":2.82},{"r":0,"c":2,"t":9,"x":104.22,"y":2.775},{"r":0,"c":2,"t":9,"x":104.23,"y":2.7},{"r":0,"c":2,"t":9,"x":104.22,"y":2.55},{"r":0,"c":2,"t":9,"x":104.21,"y":2.43},
{"r":0,"c":2,"t":10,"x":103.83,"y":3.0},{"r":0,"c":2,"t":10,"x":103.95,"y":2.9},{"r":0,"c":2,"t":10,"x":104.08,"y":2.84},{"r":0,"c":2,"t":10,"x":104.17,"y":2.8},{"r":0,"c":2,"t":10,"x":104.17,"y":2.6},{"r":0,"c":2,"t":10,"x":104.17,"y":2.45},{"r":0,"c":2,"t":10,"x":104.22,"y":2.43},
{"r":0,"c":2,"t":11,"x":103.85,"y":3.0},{"r":0,"c":2,"t":11,"x":103.95,"y":2.96},{"r":0,"c":2,"t":11,"x":104.08,"y":2.9},{"r":0,"c":2,"t":11,"x":104.18,"y":2.82},{"r":0,"c":2,"t":11,"x":104.22,"y":2.75},{"r":0,"c":2,"t":11,"x":104.24,"y":2.68},{"r":0,"c":2,"t":11,"x":104.23,"y":2.55},{"r":0,"c":2,"t":11,"x":104.22,"y":2.43},
{"r":0,"c":2,"t":12,"x":103.87,"y":3.01},{"r":0,"c":2,"t":12,"x":103.98,"y":2.95},{"r":0,"c":2,"t":12,"x":104.1,"y":2.88},{"r":0,"c":2,"t":12,"x":104.2,"y":2.86},{"r":0,"c":2,"t":12,"x":104.25,"y":2.84},{"r":0,"c":2,"t":12,"x":104.29,"y":2.8},{"r":0,"c":2,"t":12,"x":104.28,"y":2.74},{"r":0,"c":2,"t":12,"x":104.25,"y":2.65},{"r":0,"c":2,"t":12,"x":104.24,"y":2.55},{"r":0,"c":2,"t":12,"x":104.24,"y":2.43},
{"r":0,"c":2,"t":13,"x":103.86,"y":3.0},{"r":0,"c":2,"t":13,"x":103.95,"y":2.95},{"r":0,"c":2,"t":13,"x":104.05,"y":2.87},{"r":0,"c":2,"t":13,"x":104.12,"y":2.78},{"r":0,"c":2,"t":13,"x":104.17,"y":2.68},{"r":0,"c":2,"t":13,"x":104.2,"y":2.55},{"r":0,"c":2,"t":13,"x":104.21,"y":2.43},
{"r":0,"c":2,"t":14,"x":103.83,"y":3.0},{"r":0,"c":2,"t":14,"x":103.95,"y":2.9},{"r":0,"c":2,"t":14,"x":104.08,"y":2.8},{"r":0,"c":2,"t":14,"x":104.16,"y":2.73},{"r":0,"c":2,"t":14,"x":104.18,"y":2.7},{"r":0,"c":2,"t":14,"x":104.185,"y":2.6},{"r":0,"c":2,"t":14,"x":104.18,"y":2.5},{"r":0,"c":2,"t":14,"x":104.2,"y":2.44},
{"r":0,"c":2,"t":15,"x":103.84,"y":3.0},{"r":0,"c":2,"t":15,"x":103.98,"y":2.93},{"r":0,"c":2,"t":15,"x":104.1,"y":2.86},{"r":0,"c":2,"t":15,"x":104.2,"y":2.78},{"r":0,"c":2,"t":15,"x":104.23,"y":2.7},{"r":0,"c":2,"t":15,"x":104.23,"y":2.55},{"r":0,"c":2,"t":15,"x":104.22,"y":2.44},
{"r":0,"c":2,"t":16,"x":103.82,"y":3.0},{"r":0,"c":2,"t":16,"x":103.9,"y":2.9},{"r":0,"c":2,"t":16,"x":103.99,"y":2.78},{"r":0,"c":2,"t":16,"x":104.08,"y":2.65},{"r":0,"c":2,"t":16,"x":104.14,"y":2.55},{"r":0,"c":2,"t":16,"x":104.18,"y":2.47},{"r":0,"c":2,"t":16,"x":104.2,"y":2.43},
{"r":0,"c":2,"t":17,"x":103.84,"y":3.0},{"r":0,"c":2,"t":17,"x":103.96,"y":2.88},{"r":0,"c":2,"t":17,"x":104.06,"y":2.75},{"r":0,"c":2,"t":17,"x":104.12,"y":2.65},{"r":0,"c":2,"t":17,"x":104.15,"y":2.58},{"r":0,"c":2,"t":17,"x":104.19,"y":2.44},
{"r":0,"c":2,"t":18,"x":103.84,"y":3.0},{"r":0,"c":2,"t":18,"x":103.9,"y":2.95},{"r":0,"c":2,"t":18,"x":104.02,"y":2.88},{"r":0,"c":2,"t":18,"x":104.13,"y":2.862},{"r":0,"c":2,"t":18,"x":104.2,"y":2.862},{"r":0,"c":2,"t":18,"x":104.25,"y":2.845},{"r":0,"c":2,"t":18,"x":104.285,"y":2.8},{"r":0,"c":2,"t":18,"x":104.296,"y":2.746},{"r":0,"c":2,"t":18,"x":104.29,"y":2.69},{"r":0,"c":2,"t":18,"x":104.26,"y":2.638},{"r":0,"c":2,"t":18,"x":104.24,"y":2.6},{"r":0,"c":2,"t":18,"x":104.24,"y":2.52},{"r":0,"c":2,"t":18,"x":104.24,"y":2.43},
{"r":0,"c":2,"t":19,"x":103.83,"y":3.0},{"r":0,"c":2,"t":19,"x":103.93,"y":2.9},{"r":0,"c":2,"t":19,"x":104.04,"y":2.8},{"r":0,"c":2,"t":19,"x":104.13,"y":2.72},{"r":0,"c":2,"t":19,"x":104.18,"y":2.65},{"r":0,"c":2,"t":19,"x":104.2,"y":2.55},{"r":0,"c":2,"t":19,"x":104.2,"y":2.43},
{"r":0,"c":2,"t":20,"x":103.82,"y":3.0},{"r":0,"c":2,"t":20,"x":103.9,"y":2.91},{"r":0,"c":2,"t":20,"x":104.0,"y":2.79},{"r":0,"c":2,"t":20,"x":104.07,"y":2.68},{"r":0,"c":2,"t":20,"x":104.13,"y":2.58},{"r":0,"c":2,"t":20,"x":104.15,"y":2.53},{"r":0,"c":2,"t":20,"x":104.15,"y":2.44},
{"r":0,"c":2,"t":21,"x":103.86,"y":3.01},{"r":0,"c":2,"t":21,"x":103.99,"y":2.96},{"r":0,"c":2,"t":21,"x":104.1,"y":2.9},{"r":0,"c":2,"t":21,"x":104.18,"y":2.84},{"r":0,"c":2,"t":21,"x":104.23,"y":2.78},{"r":0,"c":2,"t":21,"x":104.26,"y":2.7},{"r":0,"c":2,"t":21,"x":104.25,"y":2.6},{"r":0,"c":2,"t":21,"x":104.24,"y":2.43},
{"r":0,"c":2,"t":22,"x":103.85,"y":3.0},{"r":0,"c":2,"t":22,"x":103.94,"y":2.92},{"r":0,"c":2,"t":22,"x":104.04,"y":2.83},{"r":0,"c":2,"t":22,"x":104.1,"y":2.76},{"r":0,"c":2,"t":22,"x":104.16,"y":2.68},{"r":0,"c":2,"t":22,"x":104.18,"y":2.58},{"r":0,"c":2,"t":22,"x":104.19,"y":2.43},
{"r":0,"c":2,"t":23,"x":103.87,"y":3.0},{"r":0,"c":2,"t":23,"x":103.97,"y":2.92},{"r":0,"c":2,"t":23,"x":104.05,"y":2.84},{"r":0,"c":2,"t":23,"x":104.12,"y":2.74},{"r":0,"c":2,"t":23,"x":104.18,"y":2.6},{"r":0,"c":2,"t":23,"x":104.2,"y":2.5},{"r":0,"c":2,"t":23,"x":104.2,"y":2.43},
{"r":0,"c":2,"t":24,"x":103.84,"y":3.0},{"r":0,"c":2,"t":24,"x":103.93,"y":2.91},{"r":0,"c":2,"t":24,"x":104.02,"y":2.82},{"r":0,"c":2,"t":24,"x":104.1,"y":2.74},{"r":0,"c":2,"t":24,"x":104.17,"y":2.7},{"r":0,"c":2,"t":24,"x":104.19,"y":2.65},{"r":0,"c":2,"t":24,"x":104.19,"y":2.52},{"r":0,"c":2,"t":24,"x":104.2,"y":2.44},
{"r":0,"c":2,"t":25,"x":103.85,"y":3.0},{"r":0,"c":2,"t":25,"x":103.97,"y":2.92},{"r":0,"c":2,"t":25,"x":104.08,"y":2.85},{"r":0,"c":2,"t":25,"x":104.17,"y":2.78},{"r":0,"c":2,"t":25,"x":104.22,"y":2.72},{"r":0,"c":2,"t":25,"x":104.24,"y":2.63},{"r":0,"c":2,"t":25,"x":104.23,"y":2.44},
{"r":0,"c":2,"t":26,"x":103.83,"y":3.0},{"r":0,"c":2,"t":26,"x":103.92,"y":2.89},{"r":0,"c":2,"t":26,"x":104.02,"y":2.76},{"r":0,"c":2,"t":26,"x":104.1,"y":2.64},{"r":0,"c":2,"t":26,"x":104.15,"y":2.54},{"r":0,"c":2,"t":26,"x":104.19,"y":2.46},{"r":0,"c":2,"t":26,"x":104.21,"y":2.43},
{"r":0,"c":2,"t":27,"x":103.86,"y":3.0},{"r":0,"c":2,"t":27,"x":103.96,"y":2.93},{"r":0,"c":2,"t":27,"x":104.06,"y":2.85},{"r":0,"c":2,"t":27,"x":104.14,"y":2.76},{"r":0,"c":2,"t":27,"x":104.2,"y":2.68},{"r":0,"c":2,"t":27,"x":104.21,"y":2.58},{"r":0,"c":2,"t":27,"x":104.21,"y":2.43},
{"r":0,"c":2,"t":28,"x":103.83,"y":3.0},{"r":0,"c":2,"t":28,"x":103.95,"y":2.93},{"r":0,"c":2,"t":28,"x":104.06,"y":2.86},{"r":0,"c":2,"t":28,"x":104.14,"y":2.78},{"r":0,"c":2,"t":28,"x":104.14,"y":2.6},{"r":0,"c":2,"t":28,"x":104.14,"y":2.44},{"r":0,"c":2,"t":28,"x":104.2,"y":2.43},
{"r":0,"c":2,"t":29,"x":103.85,"y":3.0},{"r":0,"c":2,"t":29,"x":103.95,"y":2.93},{"r":0,"c":2,"t":29,"x":104.06,"y":2.86},{"r":0,"c":2,"t":29,"x":104.16,"y":2.83},{"r":0,"c":2,"t":29,"x":104.2,"y":2.78},{"r":0,"c":2,"t":29,"x":104.22,"y":2.68},{"r":0,"c":2,"t":29,"x":104.21,"y":2.44},
{"r":0,"c":2,"t":30,"x":103.84,"y":3.0},{"r":0,"c":2,"t":30,"x":103.95,"y":2.93},{"r":0,"c":2,"t":30,"x":104.1,"y":2.84},{"r":0,"c":2,"t":30,"x":104.17,"y":2.8},{"r":0,"c":2,"t":30,"x":104.17,"y":2.6},{"r":0,"c":2,"t":30,"x":104.17,"y":2.53},{"r":0,"c":2,"t":30,"x":104.21,"y":2.53},{"r":0,"c":2,"t":30,"x":104.22,"y":2.43},
{"r":0,"c":2,"t":31,"x":103.86,"y":3.01},{"r":0,"c":2,"t":31,"x":103.96,"y":2.94},{"r":0,"c":2,"t":31,"x":104.06,"y":2.86},{"r":0,"c":2,"t":31,"x":104.15,"y":2.76},{"r":0,"c":2,"t":31,"x":104.2,"y":2.67},{"r":0,"c":2,"t":31,"x":104.22,"y":2.58},{"r":0,"c":2,"t":31,"x":104.23,"y":2.43},
{"r":0,"c":2,"t":32,"x":103.87,"y":3.0},{"r":0,"c":2,"t":32,"x":103.98,"y":2.94},{"r":0,"c":2,"t":32,"x":104.08,"y":2.88},{"r":0,"c":2,"t":32,"x":104.16,"y":2.8},{"r":0,"c":2,"t":32,"x":104.22,"y":2.71},{"r":0,"c":2,"t":32,"x":104.23,"y":2.6},{"r":0,"c":2,"t":32,"x":104.22,"y":2.42},
{"r":0,"c":2,"t":33,"x":103.85,"y":3.0},{"r":0,"c":2,"t":33,"x":103.94,"y":2.9},{"r":0,"c":2,"t":33,"x":104.04,"y":2.79},{"r":0,"c":2,"t":33,"x":104.11,"y":2.7},{"r":0,"c":2,"t":33,"x":104.16,"y":2.62},{"r":0,"c":2,"t":33,"x":104.19,"y":2.52},{"r":0,"c":2,"t":33,"x":104.2,"y":2.44},
{"r":0,"c":2,"t":34,"x":103.84,"y":3.0},{"r":0,"c":2,"t":34,"x":103.96,"y":2.92},{"r":0,"c":2,"t":34,"x":104.08,"y":2.83},{"r":0,"c":2,"t":34,"x":104.16,"y":2.76},{"r":0,"c":2,"t":34,"x":104.19,"y":2.7},{"r":0,"c":2,"t":34,"x":104.19,"y":2.6},{"r":0,"c":2,"t":34,"x":104.18,"y":2.44},
{"r":0,"c":2,"t":35,"x":103.82,"y":3.0},{"r":0,"c":2,"t":35,"x":103.9,"y":2.92},{"r":0,"c":2,"t":35,"x":104.0,"y":2.8},{"r":0,"c":2,"t":35,"x":104.1,"y":2.68},{"r":0,"c":2,"t":35,"x":104.14,"y":2.6},{"r":0,"c":2,"t":35,"x":104.14,"y":2.44},{"r":0,"c":2,"t":35,"x":104.2,"y":2.43},

{"r":1,"c":0,"t":0,"x":104.614,"y":2.83},{"r":1,"c":0,"t":0,"x":104.44,"y":2.794},{"r":1,"c":0,"t":0,"x":104.25,"y":2.758},{"r":1,"c":0,"t":0,"x":104.087,"y":2.721},{"r":1,"c":0,"t":0,"x":104.01,"y":2.685},{"r":1,"c":0,"t":0,"x":103.974,"y":2.663},{"r":1,"c":0,"t":0,"x":103.95,"y":2.62},{"r":1,"c":0,"t":0,"x":103.943,"y":2.533},{"r":1,"c":0,"t":0,"x":103.95,"y":2.504},
{"r":1,"c":0,"t":1,"x":104.61,"y":2.84},{"r":1,"c":0,"t":1,"x":104.3,"y":2.82},{"r":1,"c":0,"t":1,"x":104.137,"y":2.765},{"r":1,"c":0,"t":1,"x":104.06,"y":2.729},{"r":1,"c":0,"t":1,"x":104.0,"y":2.678},{"r":1,"c":0,"t":1,"x":103.96,"y":2.656},{"r":1,"c":0,"t":1,"x":103.935,"y":2.62},{"r":1,"c":0,"t":1,"x":103.915,"y":2.58},{"r":1,"c":0,"t":1,"x":103.91,"y":2.547},
{"r":1,"c":0,"t":2,"x":104.6,"y":2.855},{"r":1,"c":0,"t":2,"x":104.44,"y":2.83},{"r":1,"c":0,"t":2,"x":104.19,"y":2.826},{"r":1,"c":0,"t":2,"x":104.11,"y":2.826},{"r":1,"c":0,"t":2,"x":104.06,"y":2.816},{"r":1,"c":0,"t":2,"x":104.01,"y":2.794},{"r":1,"c":0,"t":2,"x":103.96,"y":2.772},{"r":1,"c":0,"t":2,"x":103.93,"y":2.743},{"r":1,"c":0,"t":2,"x":103.91,"y":2.69},{"r":1,"c":0,"t":2,"x":103.905,"y":2.576},
{"r":1,"c":0,"t":3,"x":104.64,"y":2.808},{"r":1,"c":0,"t":3,"x":104.5,"y":2.81},{"r":1,"c":0,"t":3,"x":104.31,"y":2.772},{"r":1,"c":0,"t":3,"x":104.125,"y":2.721},{"r":1,"c":0,"t":3,"x":104.01,"y":2.656},{"r":1,"c":0,"t":3,"x":103.96,"y":2.59},{"r":1,"c":0,"t":3,"x":103.946,"y":2.518},
{"r":1,"c":0,"t":4,"x":104.6,"y":2.825},{"r":1,"c":0,"t":4,"x":104.31,"y":2.81},{"r":1,"c":0,"t":4,"x":104.087,"y":2.806},{"r":1,"c":0,"t":4,"x":104.02,"y":2.794},{"r":1,"c":0,"t":4,"x":103.974,"y":2.768},{"r":1,"c":0,"t":4,"x":103.936,"y":2.72},{"r":1,"c":0,"t":4,"x":103.917,"y":2.663},{"r":1,"c":0,"t":4,"x":103.908,"y":2.583},
{"r":1,"c":0,"t":5,"x":104.61,"y":2.805},{"r":1,"c":0,"t":5,"x":104.375,"y":2.736},{"r":1,"c":0,"t":5,"x":104.187,"y":2.692},{"r":1,"c":0,"t":5,"x":104.06,"y":2.649},{"r":1,"c":0,"t":5,"x":103.99,"y":2.62},{"r":1,"c":0,"t":5,"x":103.955,"y":2.576},{"r":1,"c":0,"t":5,"x":103.943,"y":2.51},
{"r":1,"c":0,"t":6,"x":104.6,"y":2.84},{"r":1,"c":0,"t":6,"x":104.375,"y":2.782},{"r":1,"c":0,"t":6,"x":104.187,"y":2.736},{"r":1,"c":0,"t":6,"x":104.06,"y":2.714},{"r":1,"c":0,"t":6,"x":103.974,"y":2.692},{"r":1,"c":0,"t":6,"x":103.95,"y":2.67},{"r":1,"c":0,"t":6,"x":103.935,"y":2.62},{"r":1,"c":0,"t":6,"x":103.93,"y":2.57},
{"r":1,"c":0,"t":7,"x":104.62,"y":2.81},{"r":1,"c":0,"t":7,"x":104.375,"y":2.76},{"r":1,"c":0,"t":7,"x":104.12,"y":2.7},{"r":1,"c":0,"t":7,"x":104.02,"y":2.67},{"r":1,"c":0,"t":7,"x":103.974,"y":2.62},{"r":1,"c":0,"t":7,"x":103.95,"y":2.547},{"r":1,"c":0,"t":7,"x":103.95,"y":2.504},
{"r":1,"c":0,"t":8,"x":104.6,"y":2.801},{"r":1,"c":0,"t":8,"x":104.513,"y":2.765},{"r":1,"c":0,"t":8,"x":104.375,"y":2.721},{"r":1,"c":0,"t":8,"x":104.187,"y":2.642},{"r":1,"c":0,"t":8,"x":104.06,"y":2.598},{"r":1,"c":0,"t":8,"x":104.0,"y":2.576},{"r":1,"c":0,"t":8,"x":103.96,"y":2.547},{"r":1,"c":0,"t":8,"x":103.95,"y":2.525},
{"r":1,"c":0,"t":9,"x":104.614,"y":2.808},{"r":1,"c":0,"t":9,"x":104.44,"y":2.765},{"r":1,"c":0,"t":9,"x":104.187,"y":2.721},{"r":1,"c":0,"t":9,"x":104.06,"y":2.678},{"r":1,"c":0,"t":9,"x":103.974,"y":2.634},{"r":1,"c":0,"t":9,"x":103.943,"y":2.583},{"r":1,"c":0,"t":9,"x":103.936,"y":2.547},
{"r":1,"c":0,"t":10,"x":104.6,"y":2.83},{"r":1,"c":0,"t":10,"x":104.4,"y":2.8},{"r":1,"c":0,"t":10,"x":104.2,"y":2.76},{"r":1,"c":0,"t":10,"x":104.06,"y":2.73},{"r":1,"c":0,"t":10,"x":103.98,"y":2.7},{"r":1,"c":0,"t":10,"x":103.94,"y":2.66},{"r":1,"c":0,"t":10,"x":103.92,"y":2.6},{"r":1,"c":0,"t":10,"x":103.915,"y":2.55},
{"r":1,"c":0,"t":11,"x":104.61,"y":2.83},{"r":1,"c":0,"t":11,"x":104.39,"y":2.765},{"r":1,"c":0,"t":11,"x":104.187,"y":2.7},{"r":1,"c":0,"t":11,"x":104.06,"y":2.685},{"r":1,"c":0,"t":11,"x":103.986,"y":2.685},{"r":1,"c":0,"t":11,"x":103.955,"y":2.665},{"r":1,"c":0,"t":11,"x":103.935,"y":2.62},{"r":1,"c":0,"t":11,"x":103.923,"y":2.576},{"r":1,"c":0,"t":11,"x":103.917,"y":2.54},
{"r":1,"c":0,"t":12,"x":104.614,"y":2.837},{"r":1,"c":0,"t":12,"x":104.34,"y":2.782},{"r":1,"c":0,"t":12,"x":104.087,"y":2.772},{"r":1,"c":0,"t":12,"x":104.024,"y":2.758},{"r":1,"c":0,"t":12,"x":103.974,"y":2.729},{"r":1,"c":0,"t":12,"x":103.936,"y":2.678},{"r":1,"c":0,"t":12,"x":103.91,"y":2.62},{"r":1,"c":0,"t":12,"x":103.905,"y":2.56},
{"r":1,"c":0,"t":13,"x":104.6,"y":2.85},{"r":1,"c":0,"t":13,"x":104.375,"y":2.782},{"r":1,"c":0,"t":13,"x":104.187,"y":2.72},{"r":1,"c":0,"t":13,"x":104.06,"y":2.66},{"r":1,"c":0,"t":13,"x":103.993,"y":2.605},{"r":1,"c":0,"t":13,"x":103.96,"y":2.547},{"r":1,"c":0,"t":13,"x":103.955,"y":2.52},
{"r":1,"c":0,"t":14,"x":104.62,"y":2.83},{"r":1,"c":0,"t":14,"x":104.4,"y":2.78},{"r":1,"c":0,"t":14,"x":104.2,"y":2.73},{"r":1,"c":0,"t":14,"x":104.05,"y":2.7},{"r":1,"c":0,"t":14,"x":103.97,"y":2.66},{"r":1,"c":0,"t":14,"x":103.94,"y":2.6},{"r":1,"c":0,"t":14,"x":103.935,"y":2.55},

{"r":1,"c":1,"t":0,"x":104.69,"y":2.72},{"r":1,"c":1,"t":0,"x":104.5,"y":2.65},{"r":1,"c":1,"t":0,"x":104.3,"y":2.59},{"r":1,"c":1,"t":0,"x":104.15,"y":2.54},{"r":1,"c":1,"t":0,"x":104.05,"y":2.5},{"r":1,"c":1,"t":0,"x":104.0,"y":2.473},
{"r":1,"c":1,"t":1,"x":104.69,"y":2.745},{"r":1,"c":1,"t":1,"x":104.4,"y":2.64},{"r":1,"c":1,"t":1,"x":104.2,"y":2.56},{"r":1,"c":1,"t":1,"x":104.08,"y":2.5},{"r":1,"c":1,"t":1,"x":104.03,"y":2.47},{"r":1,"c":1,"t":1,"x":104.02,"y":2.455},
{"r":1,"c":1,"t":2,"x":104.68,"y":2.74},{"r":1,"c":1,"t":2,"x":104.4,"y":2.67},{"r":1,"c":1,"t":2,"x":104.215,"y":2.64},{"r":1,"c":1,"t":2,"x":104.14,"y":2.633},{"r":1,"c":1,"t":2,"x":104.078,"y":2.612},{"r":1,"c":1,"t":2,"x":104.04,"y":2.59},{"r":1,"c":1,"t":2,"x":104.02,"y":2.553},{"r":1,"c":1,"t":2,"x":104.0,"y":2.503},{"r":1,"c":1,"t":2,"x":103.99,"y":2.466},
{"r":1,"c":1,"t":3,"x":104.69,"y":2.74},{"r":1,"c":1,"t":3,"x":104.45,"y":2.65},{"r":1,"c":1,"t":3,"x":104.25,"y":2.57},{"r":1,"c":1,"t":3,"x":104.12,"y":2.51},{"r":1,"c":1,"t":3,"x":104.07,"y":2.48},{"r":1,"c":1,"t":3,"x":104.06,"y":2.455},
{"r":1,"c":1,"t":4,"x":104.68,"y":2.735},{"r":1,"c":1,"t":4,"x":104.45,"y":2.65},{"r":1,"c":1,"t":4,"x":104.25,"y":2.58},{"r":1,"c":1,"t":4,"x":104.1,"y":2.52},{"r":1,"c":1,"t":4,"x":104.04,"y":2.48},{"r":1,"c":1,"t":4,"x":104.03,"y":2.46},
{"r":1,"c":1,"t":5,"x":104.69,"y":2.75},{"r":1,"c":1,"t":5,"x":104.527,"y":2.72},{"r":1,"c":1,"t":5,"x":104.34,"y":2.684},{"r":1,"c":1,"t":5,"x":104.215,"y":2.655},{"r":1,"c":1,"t":5,"x":104.15,"y":2.64},{"r":1,"c":1,"t":5,"x":104.12,"y":2.62},{"r":1,"c":1,"t":5,"x":104.096,"y":2.568},{"r":1,"c":1,"t":5,"x":104.078,"y":2.524},{"r":1,"c":1,"t":5,"x":104.04,"y":2.473},{"r":1,"c":1,"t":5,"x":104.015,"y":2.455},
{"r":1,"c":1,"t":6,"x":104.66,"y":2.74},{"r":1,"c":1,"t":6,"x":104.45,"y":2.66},{"r":1,"c":1,"t":6,"x":104.278,"y":2.597},{"r":1,"c":1,"t":6,"x":104.153,"y":2.568},{"r":1,"c":1,"t":6,"x":104.1,"y":2.555},{"r":1,"c":1,"t":6,"x":104.06,"y":2.525},{"r":1,"c":1,"t":6,"x":104.02,"y":2.47},
{"r":1,"c":1,"t":7,"x":104.67,"y":2.74},{"r":1,"c":1,"t":7,"x":104.45,"y":2.65},{"r":1,"c":1,"t":7,"x":104.25,"y":2.57},{"r":1,"c":1,"t":7,"x":104.1,"y":2.51},{"r":1,"c":1,"t":7,"x":104.05,"y":2.48},{"r":1,"c":1,"t":7,"x":104.04,"y":2.455},
{"r":1,"c":1,"t":8,"x":104.65,"y":2.75},{"r":1,"c":1,"t":8,"x":104.45,"y":2.67},{"r":1,"c":1,"t":8,"x":104.25,"y":2.59},{"r":1,"c":1,"t":8,"x":104.12,"y":2.53},{"r":1,"c":1,"t":8,"x":104.05,"y":2.49},{"r":1,"c":1,"t":8,"x":104.04,"y":2.46},
{"r":1,"c":1,"t":9,"x":104.7,"y":2.72},{"r":1,"c":1,"t":9,"x":104.59,"y":2.7},{"r":1,"c":1,"t":9,"x":104.49,"y":2.626},{"r":1,"c":1,"t":9,"x":104.44,"y":2.604},{"r":1,"c":1,"t":9,"x":104.378,"y":2.604},{"r":1,"c":1,"t":9,"x":104.278,"y":2.568},{"r":1,"c":1,"t":9,"x":104.153,"y":2.524},{"r":1,"c":1,"t":9,"x":104.065,"y":2.495},{"r":1,"c":1,"t":9,"x":104.028,"y":2.473},{"r":1,"c":1,"t":9,"x":104.0,"y":2.466},
{"r":1,"c":1,"t":10,"x":104.7,"y":2.73},{"r":1,"c":1,"t":10,"x":104.45,"y":2.64},{"r":1,"c":1,"t":10,"x":104.25,"y":2.57},{"r":1,"c":1,"t":10,"x":104.09,"y":2.539},{"r":1,"c":1,"t":10,"x":104.03,"y":2.5},{"r":1,"c":1,"t":10,"x":104.0,"y":2.473},
{"r":1,"c":1,"t":11,"x":104.7,"y":2.745},{"r":1,"c":1,"t":11,"x":104.45,"y":2.645},{"r":1,"c":1,"t":11,"x":104.25,"y":2.565},{"r":1,"c":1,"t":11,"x":104.12,"y":2.51},{"r":1,"c":1,"t":11,"x":104.06,"y":2.48},{"r":1,"c":1,"t":11,"x":104.05,"y":2.455},
{"r":1,"c":1,"t":12,"x":104.69,"y":2.735},{"r":1,"c":1,"t":12,"x":104.45,"y":2.64},{"r":1,"c":1,"t":12,"x":104.25,"y":2.56},{"r":1,"c":1,"t":12,"x":104.12,"y":2.5},{"r":1,"c":1,"t":12,"x":104.07,"y":2.47},{"r":1,"c":1,"t":12,"x":104.07,"y":2.45},
{"r":1,"c":1,"t":13,"x":104.7,"y":2.745},{"r":1,"c":1,"t":13,"x":104.45,"y":2.645},{"r":1,"c":1,"t":13,"x":104.25,"y":2.56},{"r":1,"c":1,"t":13,"x":104.14,"y":2.51},{"r":1,"c":1,"t":13,"x":104.08,"y":2.48},{"r":1,"c":1,"t":13,"x":104.07,"y":2.45},
{"r":1,"c":1,"t":14,"x":104.69,"y":2.74},{"r":1,"c":1,"t":14,"x":104.45,"y":2.655},{"r":1,"c":1,"t":14,"x":104.25,"y":2.585},{"r":1,"c":1,"t":14,"x":104.12,"y":2.53},{"r":1,"c":1,"t":14,"x":104.05,"y":2.49},{"r":1,"c":1,"t":14,"x":104.02,"y":2.46},
{"r":1,"c":1,"t":15,"x":104.68,"y":2.74},{"r":1,"c":1,"t":15,"x":104.45,"y":2.655},{"r":1,"c":1,"t":15,"x":104.25,"y":2.575},{"r":1,"c":1,"t":15,"x":104.1,"y":2.52},{"r":1,"c":1,"t":15,"x":104.04,"y":2.48},{"r":1,"c":1,"t":15,"x":104.03,"y":2.46},
{"r":1,"c":1,"t":16,"x":104.69,"y":2.73},{"r":1,"c":1,"t":16,"x":104.45,"y":2.65},{"r":1,"c":1,"t":16,"x":104.25,"y":2.58},{"r":1,"c":1,"t":16,"x":104.1,"y":2.53},{"r":1,"c":1,"t":16,"x":104.03,"y":2.49},{"r":1,"c":1,"t":16,"x":104.01,"y":2.465},
{"r":1,"c":1,"t":17,"x":104.69,"y":2.745},{"r":1,"c":1,"t":17,"x":104.45,"y":2.65},{"r":1,"c":1,"t":17,"x":104.25,"y":2.57},{"r":1,"c":1,"t":17,"x":104.13,"y":2.515},{"r":1,"c":1,"t":17,"x":104.07,"y":2.48},{"r":1,"c":1,"t":17,"x":104.06,"y":2.46},
{"r":1,"c":1,"t":18,"x":104.66,"y":2.75},{"r":1,"c":1,"t":18,"x":104.45,"y":2.67},{"r":1,"c":1,"t":18,"x":104.25,"y":2.6},{"r":1,"c":1,"t":18,"x":104.12,"y":2.55},{"r":1,"c":1,"t":18,"x":104.05,"y":2.51},{"r":1,"c":1,"t":18,"x":104.02,"y":2.47},
{"r":1,"c":1,"t":19,"x":104.69,"y":2.725},{"r":1,"c":1,"t":19,"x":104.5,"y":2.68},{"r":1,"c":1,"t":19,"x":104.278,"y":2.62},{"r":1,"c":1,"t":19,"x":104.153,"y":2.597},{"r":1,"c":1,"t":19,"x":104.078,"y":2.553},{"r":1,"c":1,"t":19,"x":104.04,"y":2.51},{"r":1,"c":1,"t":19,"x":104.02,"y":2.475},
{"r":1,"c":1,"t":20,"x":104.68,"y":2.73},{"r":1,"c":1,"t":20,"x":104.45,"y":2.66},{"r":1,"c":1,"t":20,"x":104.3,"y":2.61},{"r":1,"c":1,"t":20,"x":104.15,"y":2.57},{"r":1,"c":1,"t":20,"x":104.07,"y":2.54},{"r":1,"c":1,"t":20,"x":104.03,"y":2.51},{"r":1,"c":1,"t":20,"x":104.01,"y":2.47},
{"r":1,"c":1,"t":21,"x":104.7,"y":2.745},{"r":1,"c":1,"t":21,"x":104.5,"y":2.67},{"r":1,"c":1,"t":21,"x":104.3,"y":2.59},{"r":1,"c":1,"t":21,"x":104.15,"y":2.53},{"r":1,"c":1,"t":21,"x":104.08,"y":2.49},{"r":1,"c":1,"t":21,"x":104.05,"y":2.46},
{"r":1,"c":1,"t":22,"x":104.69,"y":2.74},{"r":1,"c":1,"t":22,"x":104.45,"y":2.645},{"r":1,"c":1,"t":22,"x":104.25,"y":2.565},{"r":1,"c":1,"t":22,"x":104.13,"y":2.51},{"r":1,"c":1,"t":22,"x":104.07,"y":2.475},{"r":1,"c":1,"t":22,"x":104.06,"y":2.455},
{"r":1,"c":1,"t":23,"x":104.69,"y":2.745},{"r":1,"c":1,"t":23,"x":104.45,"y":2.66},{"r":1,"c":1,"t":23,"x":104.27,"y":2.59},{"r":1,"c":1,"t":23,"x":104.13,"y":2.53},{"r":1,"c":1,"t":23,"x":104.07,"y":2.49},{"r":1,"c":1,"t":23,"x":104.05,"y":2.455},
{"r":1,"c":1,"t":24,"x":104.68,"y":2.745},{"r":1,"c":1,"t":24,"x":104.45,"y":2.655},{"r":1,"c":1,"t":24,"x":104.2,"y":2.57},{"r":1,"c":1,"t":24,"x":104.08,"y":2.52},{"r":1,"c":1,"t":24,"x":104.03,"y":2.475},{"r":1,"c":1,"t":24,"x":104.02,"y":2.455},
{"r":1,"c":1,"t":25,"x":104.69,"y":2.75},{"r":1,"c":1,"t":25,"x":104.45,"y":2.67},{"r":1,"c":1,"t":25,"x":104.25,"y":2.6},{"r":1,"c":1,"t":25,"x":104.12,"y":2.56},{"r":1,"c":1,"t":25,"x":104.06,"y":2.52},{"r":1,"c":1,"t":25,"x":104.02,"y":2.47},
{"r":1,"c":1,"t":26,"x":104.67,"y":2.74},{"r":1,"c":1,"t":26,"x":104.45,"y":2.66},{"r":1,"c":1,"t":26,"x":104.25,"y":2.59},{"r":1,"c":1,"t":26,"x":104.12,"y":2.54},{"r":1,"c":1,"t":26,"x":104.05,"y":2.5},{"r":1,"c":1,"t":26,"x":104.03,"y":2.465},
{"r":1,"c":1,"t":27,"x":104.69,"y":2.74},{"r":1,"c":1,"t":27,"x":104.5,"y":2.7},{"r":1,"c":1,"t":27,"x":104.3,"y":2.67},{"r":1,"c":1,"t":27,"x":104.178,"y":2.648},{"r":1,"c":1,"t":27,"x":104.115,"y":2.619},{"r":1,"c":1,"t":27,"x":104.078,"y":2.568},{"r":1,"c":1,"t":27,"x":104.052,"y":2.524},{"r":1,"c":1,"t":27,"x":104.02,"y":2.47},

{"r":1,"c":2,"t":0,"x":103.99,"y":2.466},{"r":1,"c":2,"t":0,"x":104.1,"y":2.57},{"r":1,"c":2,"t":0,"x":104.2,"y":2.67},{"r":1,"c":2,"t":0,"x":104.3,"y":2.77},{"r":1,"c":2,"t":0,"x":104.38,"y":2.86},{"r":1,"c":2,"t":0,"x":104.4525,"y":2.93},
{"r":1,"c":2,"t":1,"x":103.99,"y":2.466},{"r":1,"c":2,"t":1,"x":104.046,"y":2.524},{"r":1,"c":2,"t":1,"x":104.1,"y":2.67},{"r":1,"c":2,"t":1,"x":104.146,"y":2.735},{"r":1,"c":2,"t":1,"x":104.178,"y":2.764},{"r":1,"c":2,"t":1,"x":104.234,"y":2.8},{"r":1,"c":2,"t":1,"x":104.32,"y":2.859},{"r":1,"c":2,"t":1,"x":104.39,"y":2.895},{"r":1,"c":2,"t":1,"x":104.44,"y":2.93},
{"r":1,"c":2,"t":2,"x":104.009,"y":2.466},{"r":1,"c":2,"t":2,"x":104.015,"y":2.539},{"r":1,"c":2,"t":2,"x":104.0275,"y":2.59},{"r":1,"c":2,"t":2,"x":104.046,"y":2.619},{"r":1,"c":2,"t":2,"x":104.084,"y":2.655},{"r":1,"c":2,"t":2,"x":104.171,"y":2.72},{"r":1,"c":2,"t":2,"x":104.284,"y":2.786},{"r":1,"c":2,"t":2,"x":104.384,"y":2.844},{"r":1,"c":2,"t":2,"x":104.4775,"y":2.917},
{"r":1,"c":2,"t":3,"x":104.0,"y":2.466},{"r":1,"c":2,"t":3,"x":104.071,"y":2.597},{"r":1,"c":2,"t":3,"x":104.146,"y":2.67},{"r":1,"c":2,"t":3,"x":104.234,"y":2.75},{"r":1,"c":2,"t":3,"x":104.32,"y":2.823},{"r":1,"c":2,"t":3,"x":104.42,"y":2.93},
{"r":1,"c":2,"t":4,"x":104.0,"y":2.466},{"r":1,"c":2,"t":4,"x":104.121,"y":2.568},{"r":1,"c":2,"t":4,"x":104.196,"y":2.64},{"r":1,"c":2,"t":4,"x":104.271,"y":2.699},{"r":1,"c":2,"t":4,"x":104.296,"y":2.728},{"r":1,"c":2,"t":4,"x":104.334,"y":2.815},{"r":1,"c":2,"t":4,"x":104.371,"y":2.88},{"r":1,"c":2,"t":4,"x":104.41,"y":2.946},
{"r":1,"c":2,"t":5,"x":104.015,"y":2.463},{"r":1,"c":2,"t":5,"x":104.084,"y":2.553},{"r":1,"c":2,"t":5,"x":104.196,"y":2.655},{"r":1,"c":2,"t":5,"x":104.296,"y":2.757},{"r":1,"c":2,"t":5,"x":104.384,"y":2.859},{"r":1,"c":2,"t":5,"x":104.434,"y":2.93},
{"r":1,"c":2,"t":6,"x":104.046,"y":2.463},{"r":1,"c":2,"t":6,"x":104.096,"y":2.539},{"r":1,"c":2,"t":6,"x":104.171,"y":2.612},{"r":1,"c":2,"t":6,"x":104.271,"y":2.684},{"r":1,"c":2,"t":6,"x":104.371,"y":2.772},{"r":1,"c":2,"t":6,"x":104.4775,"y":2.917},
{"r":1,"c":2,"t":7,"x":104.0,"y":2.465},{"r":1,"c":2,"t":7,"x":104.121,"y":2.583},{"r":1,"c":2,"t":7,"x":104.234,"y":2.67},{"r":1,"c":2,"t":7,"x":104.32,"y":2.772},{"r":1,"c":2,"t":7,"x":104.42,"y":2.93}
]},
"facet":{
"row":{"field":"r","type":"ordinal","title":"Latitude","header":{"labels":false,"titlePadding":13}},
"column":{"field":"c","type":"ordinal","title":"Longitude","header":{"labels":false,"titleOrient":"bottom","titlePadding":18}}
},
"spacing":{"row":35,"column":36},
"bounds":"flush",
"resolve":{"axis":{"x":"independent","y":"independent"}},
"spec":{
"width":339,"height":221,
"mark":{"type":"line","strokeWidth":1.5,"clip":true},
"encoding":{
"x":{"field":"x","type":"quantitative","scale":{"domain":[103.52,104.787],"nice":false,"zero":false},"axis":{"values":[103.6,103.8,104.0,104.2,104.4,104.6],"format":".1f"}},
"y":{"field":"y","type":"quantitative","scale":{"domain":[2.138,3.1],"nice":false,"zero":false},"axis":{"values":[2.2,2.4,2.6,2.8,3.0],"format":".1f"}},
"color":{"field":"t","type":"ordinal","scale":{"scheme":"category10"},"legend":null},
"order":{"value":null}
}
}
}
